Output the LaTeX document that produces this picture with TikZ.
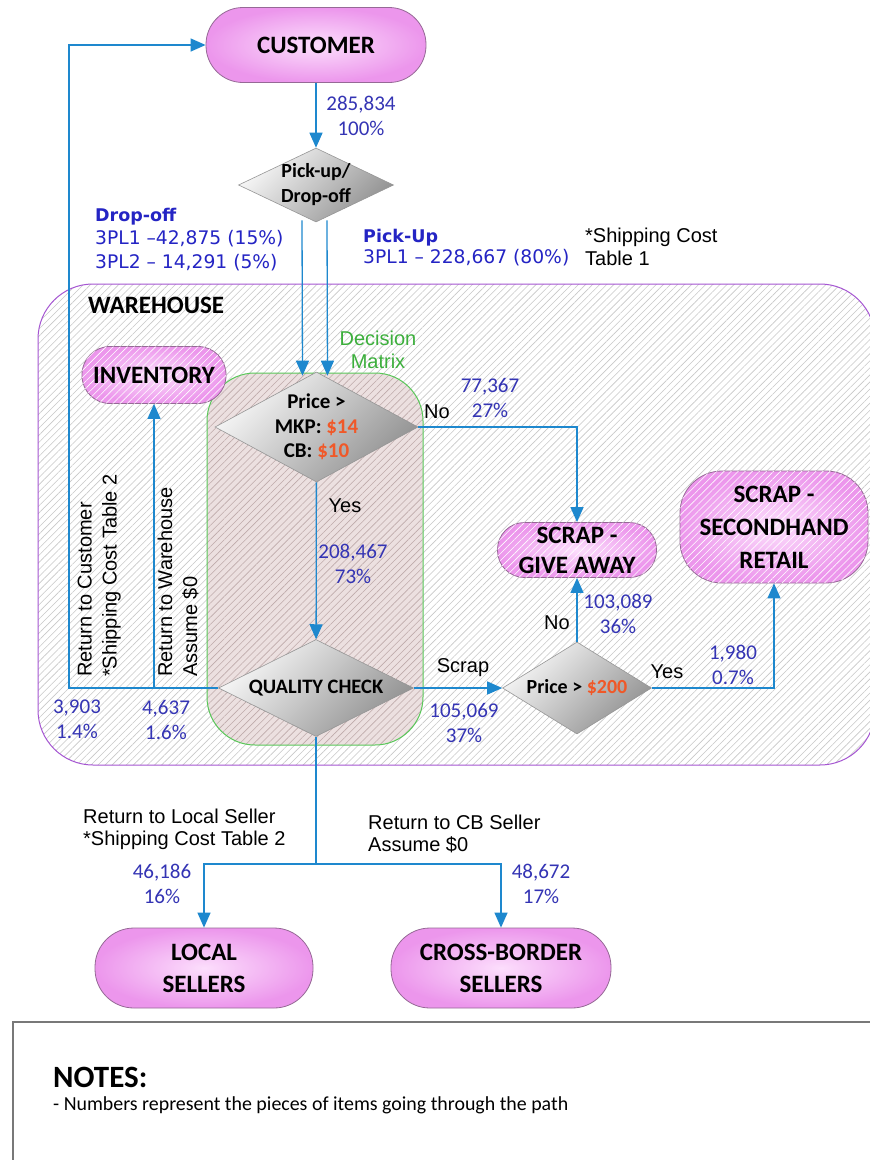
\documentclass[tikz,border=0pt]{standalone}
\usepackage{fontspec}
\setmainfont{Carlito}
\newfontfamily\arialfont{Liberation Sans}
\newfontfamily\verdanafont{DejaVu Sans}
\usepackage{tikz}
\usetikzlibrary{positioning, shapes.geometric, arrows.meta, calc, patterns.meta}

\definecolor{FlowBlue}{RGB}{30,136,206}
\definecolor{NumBlue}{RGB}{52,52,180}
\definecolor{DropBlue}{RGB}{36,36,196}
\definecolor{PillPink}{RGB}{236,150,236}
\definecolor{PillCore}{RGB}{252,222,252}
\definecolor{PillEdge}{RGB}{150,105,150}
\definecolor{DiaLight}{RGB}{248,248,248}
\definecolor{DiaDark}{RGB}{145,145,145}
\definecolor{DiaEdge}{RGB}{150,150,150}
\definecolor{PriceRed}{RGB}{240,88,40}
\definecolor{MatrixGreen}{RGB}{90,200,90}
\definecolor{MatrixText}{RGB}{60,175,60}
\definecolor{MatrixFill}{RGB}{236,224,224}
\definecolor{MatrixHatch}{RGB}{190,170,170}
\definecolor{HouseEdge}{RGB}{165,85,210}
\definecolor{HouseHatch}{RGB}{200,200,200}
\definecolor{NoteEdge}{RGB}{120,120,120}

\begin{document}
\begin{tikzpicture}[x=1pt, y=-1pt,
  pill/.style={rectangle, rounded corners=#1, draw=PillEdge, line width=0.8pt, inner color=PillCore, outer color=PillPink, inner sep=0pt, align=center, font=\bfseries\fontsize{25}{31}\selectfont},
  hatched/.style={postaction={pattern={Lines[angle=45,distance=5pt,line width=0.6pt]}, pattern color=white}},
  dia/.style={diamond, draw=DiaEdge, line width=0.6pt, top color=DiaLight, bottom color=DiaDark, shading angle=45, inner sep=-4pt, align=center},
  flow/.style={draw=FlowBlue, line width=1.3pt, -{Triangle[length=15pt,width=13pt]}},
  flowline/.style={draw=FlowBlue, line width=1.3pt},
  num/.style={text=NumBlue, align=center, inner sep=0pt, font=\fontsize{21}{25}\selectfont},
  remark/.style={inner sep=0pt, align=left, font=\arialfont\fontsize{20}{23}\selectfont}]
\useasboundingbox (0,0) rectangle (870,1160);
\fill[white] (0,0) rectangle (870,1160);

% Warehouse area
\path[pattern={Lines[angle=45,distance=5pt,line width=0.6pt]}, pattern color=HouseHatch, rounded corners=55pt] (38,284) rectangle (875,765);
\draw[HouseEdge, line width=1pt, rounded corners=55pt] (38,284) rectangle (875,765);

% Decision matrix
\fill[MatrixFill, rounded corners=48pt] (207,373) rectangle (423,745);
\path[pattern={Lines[angle=45,distance=5pt,line width=0.6pt]}, pattern color=MatrixHatch, rounded corners=48pt] (207,373) rectangle (423,745);
\draw[MatrixGreen, line width=1pt, rounded corners=48pt] (207,373) rectangle (423,745);

% Terminals
\node[pill=37pt, minimum width=220pt, minimum height=75pt] (customer) at (316,45) {CUSTOMER};
\node[pill=28pt, hatched, minimum width=144pt, minimum height=57pt] (inventory) at (154,375) {INVENTORY};
\node[pill=27pt, hatched, minimum width=159pt, minimum height=55pt, font=\bfseries\fontsize{25}{30}\selectfont] (giveaway) at (577,550) {SCRAP -\\GIVE AWAY};
\node[pill=42pt, hatched, minimum width=188pt, minimum height=112pt, font=\bfseries\fontsize{25}{33}\selectfont] (secondhand) at (774,527) {SCRAP -\\SECONDHAND\\RETAIL};
\node[pill=39pt, minimum width=218pt, minimum height=80pt, font=\bfseries\fontsize{25}{32}\selectfont] (local) at (204,968) {LOCAL\\SELLERS};
\node[pill=39pt, minimum width=220pt, minimum height=80pt, font=\bfseries\fontsize{25}{32}\selectfont] (cross) at (501,968) {CROSS-BORDER\\SELLERS};

% Decisions
\node[dia, aspect=2.1, minimum width=155pt, minimum height=74pt, font=\bfseries\fontsize{20}{25}\selectfont] (pickup) at (316,185) {Pick-up/\\Drop-off};
\node[dia, aspect=1.85, minimum width=203pt, minimum height=110pt, font=\bfseries\fontsize{21}{24.5}\selectfont] (price) at (316.5,427) {Price >\\MKP: \textcolor{PriceRed}{\$14}\\CB: \textcolor{PriceRed}{\$10}};
\node[dia, aspect=2, minimum width=195pt, minimum height=97pt, font=\bfseries\fontsize{20.5}{23}\selectfont] (qc) at (316,688) {QUALITY CHECK};
\node[dia, aspect=1.6, minimum width=149pt, minimum height=92pt, font=\bfseries\fontsize{20}{22}\selectfont] (p200) at (577,688) {Price > \textcolor{PriceRed}{\$200}};

% Titles
\node[anchor=west, inner sep=0pt, font=\bfseries\fontsize{25}{30}\selectfont] (house) at (88,305) {WAREHOUSE};
\node[text=MatrixText, align=center, inner sep=0pt, font=\arialfont\fontsize{20}{23}\selectfont] (matrix) at (378,350) {Decision\\Matrix};

% Flows
\coordinate (retcust) at (69,688);
\coordinate (split) at (316,864);
\draw[flow] (customer) -- (pickup);
\draw[flow] ($(pickup.south)+(-14,-2)$) -- ($(price.north)+(-14,4)$);
\draw[flow] ($(pickup.south)+(11,-2)$) -- ($(price.north)+(11,4)$);
\draw[flow] (price.east) -| (giveaway.north);
\draw[flow] (price) -- (qc);
\draw[flow] (qc.west) -- (retcust) |- (customer.west);
\draw[flow] (qc.west -| inventory.south) -- (inventory.south);
\draw[flow] (qc) -- (p200);
\draw[flow] (p200) -- (giveaway);
\draw[flow] (p200.east) -| (secondhand.south);
\draw[flowline] (qc.south) -- (split);
\draw[flow] (split) -| (local.north);
\draw[flow] (split) -| (cross.north);

% Branch labels
\node[remark] (nolbl) at (437,412) {No};
\node[remark] (yeslbl) at (345,506) {Yes};
\node[remark] (scraplbl) at (463,668) {Scrap};
\node[remark] (nolbl2) at (557,623) {No};
\node[remark] (yeslbl2) at (667,672) {Yes};
\node[remark, rotate=90, anchor=north west, font=\arialfont\fontsize{20}{25}\selectfont] (retcustlbl) at (77.5,677) {Return to Customer\\*Shipping Cost Table 2};
\node[remark, rotate=90, anchor=north west, font=\arialfont\fontsize{20}{25}\selectfont] (retwarelbl) at (157.5,677) {Return to Warehouse\\Assume \$0};
\node[remark, anchor=west] (ship1) at (585,246.5) {*Shipping Cost\\Table 1};
\node[remark, anchor=west, font=\arialfont\fontsize{20}{22}\selectfont] (retlocal) at (83,829) {Return to Local Seller\\*Shipping Cost Table 2};
\node[remark, anchor=west, font=\arialfont\fontsize{20}{22}\selectfont] (retcb) at (368,833.5) {Return to CB Seller\\Assume \$0};
\node[anchor=west, inner sep=0pt, align=left, text=DropBlue, font=\verdanafont\fontsize{18.7}{23.5}\selectfont] (dropoff) at (95,239.5) {{\fontsize{17.5}{23.5}\selectfont\bfseries Drop-off}\\3PL1 –42,875 (15\%)\\3PL2 – 14,291 (5\%)};
\node[anchor=west, inner sep=0pt, align=left, text=DropBlue, font=\verdanafont\fontsize{18.7}{21}\selectfont] (pickuplbl) at (363,247.5) {{\fontsize{17.5}{21}\selectfont\bfseries Pick-Up}\\3PL1 – 228,667 (80\%)};

% Counts
\node[num] (n1) at (361,115.5) {285,834\\100\%};
\node[num] (n2) at (490,398) {77,367\\27\%};
\node[num] (n3) at (353,563.5) {208,467\\73\%};
\node[num] (n4) at (618,614) {103,089\\36\%};
\node[num] (n5) at (733,664.5) {1,980\\0.7\%};
\node[num] (n6) at (464,722.5) {105,069\\37\%};
\node[num] (n7) at (77,719.5) {3,903\\1.4\%};
\node[num] (n8) at (166,719.5) {4,637\\1.6\%};
\node[num] (n9) at (162,884) {46,186\\16\%};
\node[num] (n10) at (541,884) {48,672\\17\%};

% Notes
\draw[NoteEdge, line width=1.5pt] (13,1022) rectangle (885,1175);
\node[anchor=west, inner sep=0pt, font=\bfseries\fontsize{31}{36}\selectfont] (notes) at (53,1077) {NOTES:};
\node[anchor=west, inner sep=0pt, font=\fontsize{19.9}{24}\selectfont] (notetext) at (53,1105) {- Numbers represent the pieces of items going through the path};
\end{tikzpicture}
\end{document}
